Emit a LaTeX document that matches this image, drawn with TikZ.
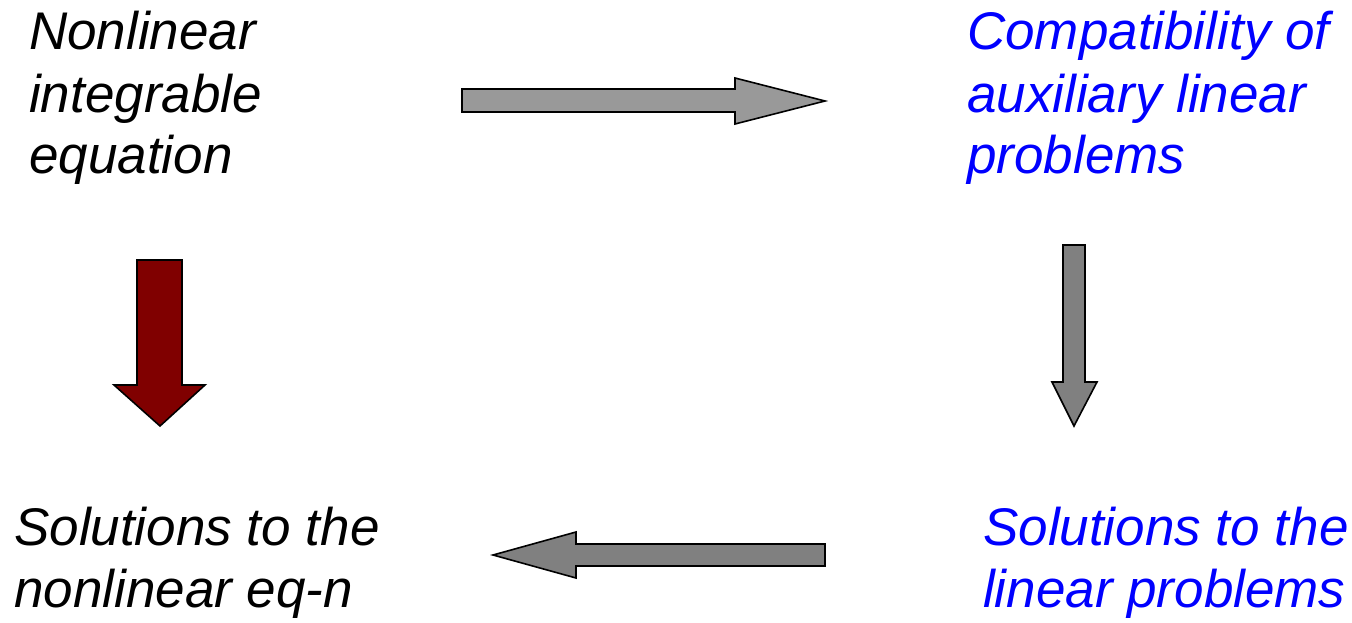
\documentclass[tikz,border=0pt]{standalone}
\usepackage{fontspec}
\setmainfont{Liberation Sans}
\begin{document}
\begin{tikzpicture}[x=1pt,y=-1pt,
  lbl/.style={font=\fontsize{53}{62}\selectfont\itshape, align=left, inner sep=0pt, anchor=base west},
  blk/.style={draw=black, line width=1.6pt, line join=miter}]
\useasboundingbox (0,0) rectangle (1352,623);
\definecolor{lightg}{HTML}{999999}
\definecolor{midg}{HTML}{808080}
\definecolor{darkred}{HTML}{800000}
\definecolor{pblue}{HTML}{0000FF}
% texts (base anchor = baseline of last line)
\node[lbl] (tl) at (29,174) {Nonlinear\\integrable\\equation};
\node[lbl, text=pblue] (tr) at (967,174) {Compatibility of\\auxiliary linear\\problems};
\node[lbl] (bl) at (14,607) {Solutions to the\\nonlinear eq-n};
\node[lbl, text=pblue] (br) at (983,607) {Solutions to the\\linear problems};
% arrows
\draw[blk, fill=lightg] (462,89) -- (735,89) -- (735,78) -- (825,101) -- (735,124) -- (735,112) -- (462,112) -- cycle;
\draw[blk, fill=darkred] (137,260) -- (182,260) -- (182,385) -- (205,385) -- (160,426) -- (114,385) -- (137,385) -- cycle;
\draw[blk, fill=midg] (1063,245) -- (1085,245) -- (1085,382) -- (1097,382) -- (1074,426) -- (1052,382) -- (1063,382) -- cycle;
\draw[blk, fill=midg] (825,544) -- (576,544) -- (576,532) -- (493,555) -- (576,578) -- (576,566) -- (825,566) -- cycle;
\end{tikzpicture}
\end{document}
